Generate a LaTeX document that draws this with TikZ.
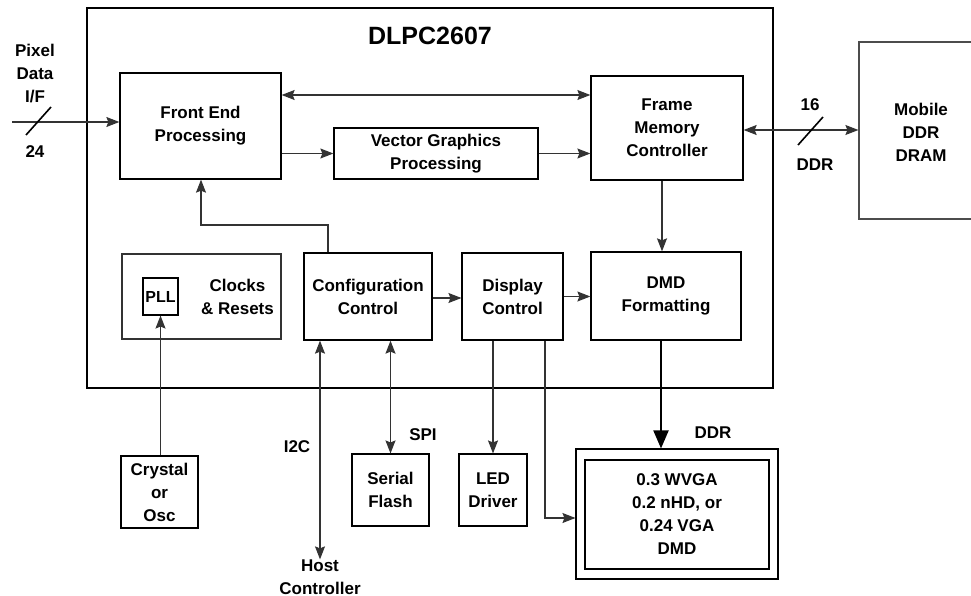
\documentclass[tikz,border=0pt]{standalone}
\usepackage{fontspec}
\setmainfont{Liberation Sans}
\usetikzlibrary{arrows.meta}
\begin{document}
\begin{tikzpicture}[x=1pt,y=-1pt,
  font=\fontsize{17}{23}\selectfont\bfseries,
  blk/.style={draw=black, line width=1.3pt, inner sep=0pt, align=center, fill=white},
  lbl/.style={inner sep=0pt, align=center},
  tip/.tip={Stealth[length=13pt,width=10pt,inset=2pt]},
  con/.style={draw=black!80, line width=1.1pt, -tip},
  bicon/.style={draw=black!80, line width=1.1pt, tip-tip},
  bus/.style={draw=black, line width=2pt, -{Triangle[length=18pt,width=15pt]}},
  slash/.style={draw=black, line width=1.6pt}]
\useasboundingbox (0,0) rectangle (971,596);
\fill[white] (0,0) rectangle (971,596);

% main chip outline
\node[draw=black, line width=2pt, minimum width=686pt, minimum height=380pt, inner sep=0pt] (chip) at (430,198) {};
\node[lbl, font=\fontsize{25}{30}\selectfont\bfseries] (title) at (430,36) {DLPC2607};

% blocks
\node[blk, minimum width=161pt, minimum height=106pt] (fep) at (200.5,126) {Front End\\Processing};
\node[blk, minimum width=204pt, minimum height=51pt] (vgp) at (436,153.5) {Vector Graphics\\Processing};
\node[blk, minimum width=152pt, minimum height=104pt] (fmc) at (667,128) {Frame\\Memory\\Controller};
\node[draw=black!70, line width=1.2pt, inner sep=0pt, minimum width=124pt, minimum height=177pt] (dram) at (921,130.5) {};
\node[lbl] (dramtxt) at (921,132) {Mobile\\DDR\\DRAM};

\node[draw=black!80, line width=1.1pt, inner sep=0pt, minimum width=159pt, minimum height=85pt] (clk) at (201.5,296.5) {};
\node[blk, line width=1.1pt, minimum width=35pt, minimum height=37pt, font=\fontsize{16}{20}\selectfont\bfseries] (pll) at (160.5,296.5) {PLL};
\node[lbl] (clktxt) at (237.5,296.5) {Clocks\\\& Resets};
\node[blk, minimum width=128pt, minimum height=87pt] (cfg) at (368,296.5) {Configuration\\Control};
\node[blk, line width=1.1pt, minimum width=101pt, minimum height=87pt] (dsp) at (512.5,296.5) {Display\\Control};
\node[blk, minimum width=150pt, minimum height=88pt] (fmt) at (666,296) {DMD\\Formatting};

% external blocks
\node[blk, line width=1.1pt, minimum width=77pt, minimum height=72pt] (xtal) at (159.5,492) {Crystal\\or\\Osc};
\node[blk, line width=1.1pt, minimum width=77pt, minimum height=72pt] (flash) at (390.5,490) {Serial\\Flash};
\node[blk, line width=1.1pt, minimum width=68pt, minimum height=72pt] (led) at (493,490) {LED\\Driver};
\node[blk, line width=1.1pt, minimum width=202pt, minimum height=130pt] (dmdout) at (677,514) {};
\node[blk, line width=1.1pt, minimum width=184pt, minimum height=109pt] (dmdin) at (677,514.5) {0.3 WVGA\\0.2 nHD, or\\0.24 VGA\\DMD};
\node[lbl] (host) at (320,577) {Host\\Controller};

% labels
\node[lbl] (pixlbl) at (35,74) {Pixel\\Data\\I/F};
\node[lbl] (w24) at (35,152) {24};
\node[lbl] (w16) at (810,105) {16};
\node[lbl] (ddr1) at (815,165) {DDR};
\node[lbl] (i2c) at (297,447) {I2C};
\node[lbl] (spi) at (423,435) {SPI};
\node[lbl] (ddr2) at (713,433) {DDR};

% helper coordinates
\coordinate (pxin) at (12,122);
\coordinate (y95) at (0,95);
\coordinate (y130) at (0,130);
\coordinate (x662) at (662,0);
\coordinate (k1) at (328,225);
\coordinate (k2) at (201,225);
\coordinate (y298) at (0,298);
\coordinate (x320) at (320,0);
\coordinate (k3) at (545,518);
\coordinate (x661) at (661,0);

% connectors
\draw[con] (pxin) -- (pxin -| fep.west);
\draw[slash] (26,135) -- (51,107);
\draw[bicon] (fep.east |- y95) -- (fmc.west |- y95);
\draw[con] (fep.east |- vgp.west) -- (vgp.west);
\draw[con] (vgp.east) -- (vgp.east -| fmc.west);
\draw[bicon] (fmc.east |- y130) -- (dram.west |- y130);
\draw[slash] (798,145) -- (823,117);
\draw[con] (fmc.south -| x662) -- (fmt.north -| x662);
\draw[con] (cfg.north -| k1) -- (k1) -- (k2) -- (fep.south -| k2);
\draw[con] (cfg.east |- y298) -- (dsp.west |- y298);
\draw[con] (dsp.east) -- (dsp.east -| fmt.west);
\draw[con] (xtal.north -| pll.south) -- (pll.south);
\draw[bicon] (cfg.south -| x320) -- (host.north);
\draw[bicon] (cfg.south -| flash.north) -- (flash.north);
\draw[con] (dsp.south -| led.north) -- (led.north);
\draw[con] (dsp.south -| k3) -- (k3) -- (k3 -| dmdout.west);
\draw[bus] (fmt.south -| x661) -- (dmdout.north -| x661);
\end{tikzpicture}
\end{document}
